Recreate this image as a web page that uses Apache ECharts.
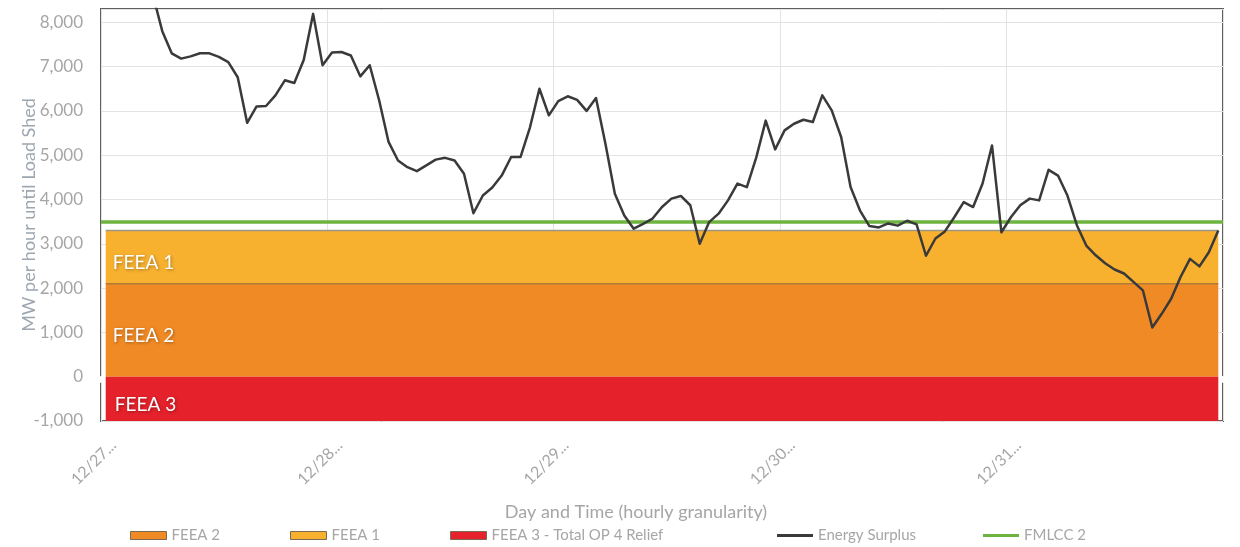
<!DOCTYPE html>
<html>
<head>
<meta charset="utf-8">
<script src="https://cdn.jsdelivr.net/npm/echarts@6/dist/echarts.min.js"></script>
<style>html,body{margin:0;padding:0;background:#fff;}#c{width:1240px;height:547px;}</style>
</head>
<body>
<div id="c"></div>
<script>
// ---- data ----
const dayLabels = ['12/27...', '12/28...', '12/29...', '12/30...', '12/31...'];
const hoursPerDay = 24;
const energySurplus = [
  9000, 9250, 9400, 9300, 9050, 8620, 7800, 7300, 7180, 7230,
  7300, 7300, 7220, 7100, 6760, 5730, 6100, 6110, 6350, 6690,
  6630, 7150, 8190, 7030, 7320, 7330, 7250, 6780, 7030, 6240,
  5300, 4880, 4730, 4640, 4770, 4900, 4940, 4880, 4580, 3690,
  4090, 4270, 4540, 4960, 4960, 5630, 6500, 5900, 6220, 6330,
  6250, 6000, 6290, 5260, 4130, 3640, 3340, 3450, 3570, 3830,
  4020, 4080, 3870, 3000, 3490, 3680, 3980, 4360, 4280, 4950,
  5780, 5130, 5560, 5710, 5800, 5750, 6350, 6010, 5410, 4280,
  3750, 3400, 3370, 3460, 3410, 3520, 3440, 2730, 3120, 3280,
  3600, 3940, 3830, 4360, 5220, 3260, 3600, 3870, 4020, 3980,
  4670, 4540, 4090, 3420, 2960, 2740, 2560, 2420, 2330, 2140,
  1950, 1110, 1420, 1760, 2250, 2660, 2490, 2810, 3300
];
const feea1Top = 3300;     // FEEA 1 band: 2100 .. 3300
const feea2Top = 2100;     // FEEA 2 band: 0 .. 2100
const feea3Bottom = -1000; // FEEA 3 band: -1000 .. 0
const fmlcc2 = 3500;
const yTicks = { min: -1000, max: 8300, interval: 1000 };
const legendNames = ['FEEA 2', 'FEEA 1', 'FEEA 3 - Total OP 4 Relief', 'Energy Surplus', 'FMLCC 2'];

// ---- build ----
const categories = energySurplus.map((_, i) => dayLabels[Math.floor(i / hoursPerDay)] + ' ' + (i % hoursPerDay) + ':00');
const n = categories.length;
const feea2Data = categories.map(() => feea2Top);
const feea1Data = categories.map(() => feea1Top - feea2Top);
const feea3Data = categories.map(() => feea3Bottom);

const FONT = 'Lato, "Open Sans", sans-serif';
const GRAY = '#a6a6a6';
const C_F1 = '#f7b12f', C_F2 = '#f08a24', C_F3 = '#e5212b', C_G = '#6cb33f', C_K = '#3a3a3a';
const LINE_ICON = 'path://M0,0L0.01,0Z M0,2.6H36V5.4H0Z M0,8L0.01,8Z';

const chart = echarts.init(document.getElementById('c'), null, { renderer: 'canvas' });
const bandLabel = (txt, dist) => ({
  show: true, position: 'insideLeft', distance: dist, formatter: txt, offset: [0, 6],
  color: '#fff', fontFamily: FONT, fontSize: 19,
  textShadowColor: 'rgba(0,0,0,0.35)', textShadowBlur: 3, textShadowOffsetX: 1, textShadowOffsetY: 1
});

const legendItems = [
  { name: legendNames[0], icon: 'rect', itemStyle: { color: C_F2, borderColor: '#7d6a52', borderWidth: 1 } },
  { name: legendNames[1], icon: 'rect', itemStyle: { color: C_F1, borderColor: '#7d6a52', borderWidth: 1 } },
  { name: legendNames[2], icon: 'rect', itemStyle: { color: C_F3, borderColor: '#7d6a52', borderWidth: 1 } },
  { name: legendNames[3], icon: LINE_ICON, itemStyle: { color: C_K, borderWidth: 0 } },
  { name: legendNames[4], icon: LINE_ICON, itemStyle: { color: C_G, borderWidth: 0 } }
];
const legendLeft = [130, 290, 450, 777, 983];

chart.setOption({
  animation: false,
  backgroundColor: '#fff',
  textStyle: { fontFamily: FONT },
  grid: { left: 101, right: 17, top: 9, bottom: 126, show: true, borderColor: '#5f5f5f', borderWidth: 2, backgroundColor: 'transparent' },
  legend: legendItems.map((it, k) => ({
    top: 528, left: legendLeft[k], itemWidth: 36, itemHeight: 8, padding: 0,
    textStyle: { color: GRAY, fontSize: 15, fontFamily: FONT },
    data: [it]
  })),
  xAxis: [
    {
      type: 'category', data: categories, boundaryGap: true, position: 'bottom',
      name: 'Day and Time (hourly granularity)', nameLocation: 'middle', nameGap: 82,
      nameTextStyle: { color: GRAY, fontSize: 18, fontFamily: FONT, padding: [0, 52, 0, 0] },
      axisLine: { show: false, onZero: false },
      axisTick: { show: false },
      axisLabel: {
        interval: hoursPerDay - 1, rotate: 45, color: GRAY, fontSize: 16, fontFamily: FONT, margin: 14,
        verticalAlign: 'top', padding: [3, 0, 0, 0],
        formatter: (v, idx) => dayLabels[Math.floor(idx / hoursPerDay)]
      },
      splitLine: { show: true, interval: hoursPerDay - 1, lineStyle: { color: '#e3e3e3', width: 1 } }
    },
    {
      type: 'category', data: categories, boundaryGap: true, position: 'bottom',
      axisLine: { show: true, onZero: true, lineStyle: { color: '#ffffff', width: 2 } },
      axisTick: { show: true, interval: hoursPerDay - 1, length: 6, lineStyle: { color: '#ffffff', width: 2 } },
      axisLabel: { show: false },
      splitLine: { show: false }
    }
  ],
  yAxis: {
    type: 'value', min: yTicks.min, max: yTicks.max, interval: yTicks.interval,
    name: 'MW per hour until Load Shed', nameLocation: 'middle', nameGap: 63, nameMoveOverlap: false,
    nameTextStyle: { color: '#9ea7b0', fontSize: 18, fontFamily: FONT },
    axisLine: { show: false }, axisTick: { show: false },
    axisLabel: {
      color: GRAY, fontSize: 17, fontFamily: FONT, margin: 18, showMaxLabel: false,
      formatter: v => v.toLocaleString('en-US')
    },
    splitLine: { show: true, lineStyle: { color: '#e3e3e3', width: 1 } }
  },
  series: [
    {
      name: legendNames[0], type: 'line', stack: 'bands', data: feea2Data, symbol: 'none',
      lineStyle: { color: '#b07a3a', width: 1.5 }, itemStyle: { color: C_F2 },
      areaStyle: { color: C_F2, opacity: 1 },
      markArea: { silent: true, z: 20, itemStyle: { color: 'transparent' }, label: bandLabel('FEEA 2', 7),
        data: [[{ xAxis: categories[0], yAxis: 0 }, { xAxis: categories[n - 1], yAxis: feea2Top }]] }
    },
    {
      name: legendNames[1], type: 'line', stack: 'bands', data: feea1Data, symbol: 'none',
      lineStyle: { color: '#9c9685', width: 1.5 }, itemStyle: { color: C_F1 },
      areaStyle: { color: C_F1, opacity: 1 },
      markArea: { silent: true, z: 20, itemStyle: { color: 'transparent' }, label: bandLabel('FEEA 1', 7),
        data: [[{ xAxis: categories[0], yAxis: feea2Top }, { xAxis: categories[n - 1], yAxis: feea1Top }]] }
    },
    {
      name: legendNames[2], type: 'line', data: feea3Data, symbol: 'none',
      lineStyle: { color: C_F3, width: 0 }, itemStyle: { color: C_F3 },
      areaStyle: { color: C_F3, opacity: 1, origin: 'auto' },
      markArea: { silent: true, z: 20, itemStyle: { color: 'transparent' }, label: bandLabel('FEEA 3', 9),
        data: [[{ xAxis: categories[0], yAxis: feea3Bottom }, { xAxis: categories[n - 1], yAxis: 0 }]] }
    },
    {
      name: legendNames[4], type: 'line', data: [], symbol: 'none',
      lineStyle: { color: C_G, width: 3.5 }, itemStyle: { color: C_G },
      markLine: { silent: true, symbol: 'none', label: { show: false },
        lineStyle: { color: C_G, width: 3.5, type: 'solid' }, data: [{ yAxis: fmlcc2 }] }
    },
    {
      name: legendNames[3], type: 'line', data: energySurplus, symbol: 'none', clip: true,
      lineStyle: { color: C_K, width: 2.5, join: 'round' }, itemStyle: { color: C_K }, z: 5
    }
  ]
});
</script>
</body>
</html>
